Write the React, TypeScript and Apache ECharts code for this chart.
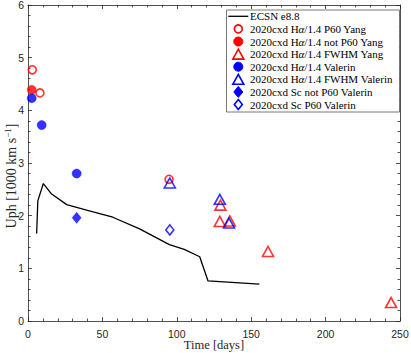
import React, { useEffect, useRef } from "react";
import * as echarts from "echarts";

const ecsnLine: [number, number][] = [
  [5.8, 1.66], [6.6, 2.28], [10.3, 2.61], [15.9, 2.41], [26, 2.21], [40, 2.1],
  [57, 1.97], [75, 1.75], [95, 1.45], [105, 1.36], [115.4, 1.22], [121, 0.76], [155.5, 0.7],
];
const p60Yang: [number, number][] = [[2.9, 4.77], [8, 4.33], [94.8, 2.69]];
const notP60Yang: [number, number][] = [[2.5, 4.39]];
const fwhmYang: [number, number][] = [[129.3, 2.2], [128.9, 1.89], [135.6, 1.9], [161.3, 1.32], [244, 0.35]];
const valerin: [number, number][] = [[2.5, 4.23], [9.2, 3.72], [32.7, 2.8]];
const fwhmValerin: [number, number][] = [[95.3, 2.62], [128.9, 2.31], [135.1, 1.86]];
const scNotP60Valerin: [number, number][] = [[32.7, 1.96]];
const scP60Valerin: [number, number][] = [[95.3, 1.73]];

const seriesNames = [
  "ECSN e8.8",
  "2020cxd Hα/1.4 P60 Yang",
  "2020cxd Hα/1.4 not P60 Yang",
  "2020cxd Hα/1.4 FWHM Yang",
  "2020cxd Hα/1.4 Valerin",
  "2020cxd Hα/1.4 FWHM Valerin",
  "2020cxd Sc not P60 Valerin",
  "2020cxd Sc P60 Valerin",
];

const RED = "#ff0000";
const BLUE = "#0000ff";

type MarkerDef = { data: [number, number][]; symbol: string; size: number | number[]; color: string; filled: boolean };
const markers: MarkerDef[] = [
  { data: p60Yang, symbol: "circle", size: 8, color: RED, filled: false },
  { data: notP60Yang, symbol: "circle", size: 9, color: RED, filled: true },
  { data: fwhmYang, symbol: "triangle", size: [11, 10], color: RED, filled: false },
  { data: valerin, symbol: "circle", size: 9, color: BLUE, filled: true },
  { data: fwhmValerin, symbol: "triangle", size: [11, 10], color: BLUE, filled: false },
  { data: scNotP60Valerin, symbol: "diamond", size: [9, 11], color: BLUE, filled: true },
  { data: scP60Valerin, symbol: "diamond", size: [8, 10], color: BLUE, filled: false },
];

const SERIF = "'Liberation Serif', 'DejaVu Serif', serif";
const SANS = "'Liberation Sans', Arial, sans-serif";
const AX = "#262626";

function legendText(name: string) {
  return name.replace("α", "{a|α}");
}

export default function App() {
  const ref = useRef<HTMLDivElement>(null);
  useEffect(() => {
    if (!ref.current) return;
    const chart = echarts.init(ref.current, null, { renderer: "svg" });
    const grid = { left: 28, top: 5, width: 372, height: 316, containLabel: false, outerBoundsMode: "none" };
    const axisCommon = {
      type: "value" as const,
      axisLine: { show: true, onZero: false, lineStyle: { color: AX, width: 0.8 } },
      axisTick: { show: true, inside: true, length: 4, lineStyle: { color: AX, width: 0.8 } },
      minorTick: { show: true, splitNumber: 5, length: 2.5, lineStyle: { color: AX, width: 0.8 } },
      splitLine: { show: false },
    };

    const legendX = 226.5, legendY = 10, legendW = 173, legendH = 102;
    const rowY0 = 16.3, rowGap = 12.6, iconX = 238.3, textX = 250;
    const legendEls: any[] = [
      { type: "rect", shape: { x: legendX, y: legendY, width: legendW, height: legendH }, style: { fill: "#fff", stroke: "#555", lineWidth: 0.8 }, z: 100 },
    ];
    seriesNames.forEach((nm, i) => {
      const cy = rowY0 + i * rowGap;
      legendEls.push({
        type: "text", x: textX, y: cy, z: 101,
        style: {
          text: legendText(nm), fill: "#000", font: `11px ${SERIF}`, verticalAlign: "middle", align: "left",
          rich: { a: { fontStyle: "italic", fontFamily: SERIF, fontSize: 11, fill: "#000" } },
        },
      });
      if (i === 0) {
        legendEls.push({ type: "line", z: 101, shape: { x1: 228.3, y1: cy, x2: 248.3, y2: cy }, style: { stroke: "#000", lineWidth: 1.3 } });
      } else {
        const m = markers[i - 1];
        const st = m.filled ? { fill: m.color, stroke: m.color, lineWidth: 1 } : { fill: "none", stroke: m.color, lineWidth: 1.6 };
        if (m.symbol === "circle") {
          legendEls.push({ type: "circle", z: 101, shape: { cx: iconX, cy, r: m.filled ? 4.5 : 4 }, style: st });
        } else if (m.symbol === "triangle") {
          legendEls.push({ type: "polygon", z: 101, shape: { points: [[iconX, cy - 5], [iconX + 5.5, cy + 5], [iconX - 5.5, cy + 5]] }, style: st });
        } else {
          const hw = m.filled ? 4.5 : 4, hh = m.filled ? 5.5 : 5;
          legendEls.push({ type: "polygon", z: 101, shape: { points: [[iconX, cy - hh], [iconX + hw, cy], [iconX, cy + hh], [iconX - hw, cy]] }, style: st });
        }
      }
    });

    const option: any = {
      animation: false,
      backgroundColor: "#fff",
      grid,
      xAxis: [
        {
          ...axisCommon, position: "bottom", min: 0, max: 250, interval: 50,
          axisLabel: { color: AX, fontFamily: SANS, fontSize: 10.5, margin: 7 },
        },
        { ...axisCommon, position: "top", min: 0, max: 250, interval: 50, axisLabel: { show: false } },
      ],
      yAxis: [
        {
          ...axisCommon, position: "left", min: 0, max: 6, interval: 1,
          axisLabel: { color: AX, fontFamily: SANS, fontSize: 10.5, margin: 4 },
        },
        { ...axisCommon, position: "right", min: 0, max: 6, interval: 1, axisLabel: { show: false } },
      ],
      graphic: [
        {
          type: "text", x: 214, y: 345, z: 50,
          style: { text: "Time [days]", fill: AX, font: `12.5px ${SERIF}`, align: "center", verticalAlign: "middle" },
        },
        {
          type: "text", x: 11, y: 176, rotation: Math.PI / 2, z: 50,
          style: {
            text: "Uph [1000 km s{sup|−1}]", fill: AX, font: `14px ${SERIF}`, align: "center", verticalAlign: "middle",
            rich: { sup: { fontSize: 9, fontFamily: SERIF, fill: AX, verticalAlign: "top", padding: [0, 0, 7, 0] } },
          },
        },
        ...legendEls,
      ],
      series: [
        {
          name: seriesNames[0], type: "line", data: ecsnLine, showSymbol: false, symbol: "none",
          lineStyle: { color: "#000", width: 1.3 }, itemStyle: { color: "#000" }, z: 2,
        },
        ...markers.map((m, i) => ({
          name: seriesNames[i + 1], type: "scatter", data: m.data, symbol: m.symbol, symbolSize: m.size, z: 3 + i,
          itemStyle: m.filled
            ? { color: m.color, borderColor: m.color, borderWidth: 0.5 }
            : { color: "transparent", borderColor: m.color, borderWidth: 1.6 },
        })),
      ],
    };
    chart.setOption(option);
    return () => chart.dispose();
  }, []);
  return <div ref={ref} style={{ width: 411, height: 353, position: "absolute", left: 0, top: 0 }} />;
}
